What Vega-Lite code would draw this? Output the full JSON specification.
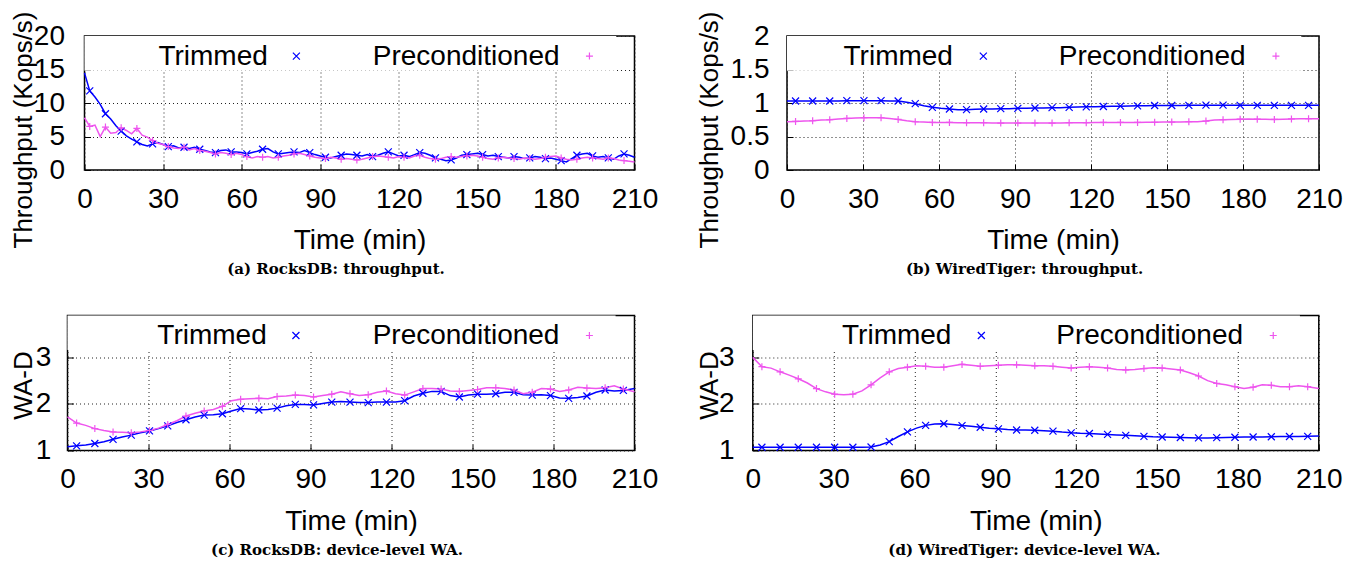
{
"$schema": "https://vega.github.io/schema/vega-lite/v6.json",
"padding": {"left": 8.5, "top": 10, "right": 5, "bottom": 5},
"background": "white",
"datasets": {
"a": [
{"s":"T","t":0,"v":14.5},{"s":"T","t":2,"v":11.8},{"s":"T","t":4,"v":10.9},{"s":"T","t":6,"v":9.8},{"s":"T","t":8,"v":8.4},{"s":"T","t":10,"v":7.6},{"s":"T","t":12,"v":6.6},{"s":"T","t":14,"v":5.8},{"s":"T","t":16,"v":5.1},{"s":"T","t":18,"v":4.6},{"s":"T","t":20,"v":4.2},{"s":"T","t":22,"v":3.8},{"s":"T","t":24,"v":3.6},{"s":"T","t":26,"v":3.9},{"s":"T","t":28,"v":4.1},{"s":"T","t":30,"v":3.8},{"s":"T","t":32,"v":3.5},{"s":"T","t":34,"v":3.6},{"s":"T","t":36,"v":3.3},{"s":"T","t":38,"v":3.4},{"s":"T","t":40,"v":3.2},{"s":"T","t":42,"v":3.4},{"s":"T","t":44,"v":3.1},{"s":"T","t":46,"v":2.9},{"s":"T","t":48,"v":2.7},{"s":"T","t":50,"v":2.6},{"s":"T","t":52,"v":2.9},{"s":"T","t":54,"v":3.0},{"s":"T","t":56,"v":2.7},{"s":"T","t":58,"v":2.7},{"s":"T","t":60,"v":2.6},{"s":"T","t":62,"v":2.4},{"s":"T","t":64,"v":2.6},{"s":"T","t":66,"v":2.8},{"s":"T","t":68,"v":3.1},{"s":"T","t":70,"v":3.2},{"s":"T","t":72,"v":2.7},{"s":"T","t":74,"v":2.4},{"s":"T","t":76,"v":2.5},{"s":"T","t":78,"v":2.6},{"s":"T","t":80,"v":2.7},{"s":"T","t":82,"v":2.6},{"s":"T","t":84,"v":2.9},{"s":"T","t":86,"v":2.6},{"s":"T","t":88,"v":2.3},{"s":"T","t":90,"v":2.1},{"s":"T","t":92,"v":1.9},{"s":"T","t":94,"v":1.8},{"s":"T","t":96,"v":2.0},{"s":"T","t":98,"v":2.2},{"s":"T","t":100,"v":2.4},{"s":"T","t":102,"v":2.3},{"s":"T","t":104,"v":2.2},{"s":"T","t":106,"v":2.1},{"s":"T","t":108,"v":2.3},{"s":"T","t":110,"v":2.0},{"s":"T","t":112,"v":2.2},{"s":"T","t":114,"v":2.5},{"s":"T","t":116,"v":2.7},{"s":"T","t":118,"v":2.4},{"s":"T","t":120,"v":2.1},{"s":"T","t":122,"v":2.2},{"s":"T","t":124,"v":2.0},{"s":"T","t":126,"v":2.3},{"s":"T","t":128,"v":2.6},{"s":"T","t":130,"v":2.5},{"s":"T","t":132,"v":2.2},{"s":"T","t":134,"v":1.8},{"s":"T","t":136,"v":1.6},{"s":"T","t":138,"v":1.4},{"s":"T","t":140,"v":1.5},{"s":"T","t":142,"v":1.8},{"s":"T","t":144,"v":2.2},{"s":"T","t":146,"v":2.3},{"s":"T","t":148,"v":2.4},{"s":"T","t":150,"v":2.5},{"s":"T","t":152,"v":2.3},{"s":"T","t":154,"v":2.1},{"s":"T","t":156,"v":2.2},{"s":"T","t":158,"v":2.0},{"s":"T","t":160,"v":1.9},{"s":"T","t":162,"v":1.8},{"s":"T","t":164,"v":2.0},{"s":"T","t":166,"v":1.9},{"s":"T","t":168,"v":1.7},{"s":"T","t":170,"v":1.8},{"s":"T","t":172,"v":2.0},{"s":"T","t":174,"v":1.9},{"s":"T","t":176,"v":1.7},{"s":"T","t":178,"v":1.8},{"s":"T","t":180,"v":1.6},{"s":"T","t":182,"v":1.4},{"s":"T","t":184,"v":1.2},{"s":"T","t":186,"v":1.7},{"s":"T","t":188,"v":2.2},{"s":"T","t":190,"v":2.4},{"s":"T","t":192,"v":2.5},{"s":"T","t":194,"v":2.1},{"s":"T","t":196,"v":1.9},{"s":"T","t":198,"v":2.0},{"s":"T","t":200,"v":1.8},{"s":"T","t":202,"v":1.6},{"s":"T","t":204,"v":2.1},{"s":"T","t":206,"v":2.4},{"s":"T","t":208,"v":2.2},{"s":"T","t":210,"v":1.9},
{"s":"P","t":0,"v":7.8},{"s":"P","t":2,"v":6.5},{"s":"P","t":4,"v":6.7},{"s":"P","t":6,"v":5.0},{"s":"P","t":8,"v":6.4},{"s":"P","t":10,"v":5.5},{"s":"P","t":12,"v":5.6},{"s":"P","t":14,"v":6.3},{"s":"P","t":16,"v":5.9},{"s":"P","t":18,"v":5.4},{"s":"P","t":20,"v":6.2},{"s":"P","t":22,"v":5.2},{"s":"P","t":24,"v":4.9},{"s":"P","t":26,"v":4.4},{"s":"P","t":28,"v":4.0},{"s":"P","t":30,"v":3.8},{"s":"P","t":32,"v":3.5},{"s":"P","t":34,"v":3.3},{"s":"P","t":36,"v":3.2},{"s":"P","t":38,"v":3.4},{"s":"P","t":40,"v":3.0},{"s":"P","t":42,"v":3.2},{"s":"P","t":44,"v":2.9},{"s":"P","t":46,"v":2.8},{"s":"P","t":48,"v":2.6},{"s":"P","t":50,"v":2.4},{"s":"P","t":52,"v":2.6},{"s":"P","t":54,"v":2.5},{"s":"P","t":56,"v":2.3},{"s":"P","t":58,"v":2.5},{"s":"P","t":60,"v":2.3},{"s":"P","t":62,"v":2.0},{"s":"P","t":64,"v":1.8},{"s":"P","t":66,"v":2.0},{"s":"P","t":68,"v":1.9},{"s":"P","t":70,"v":2.0},{"s":"P","t":72,"v":1.8},{"s":"P","t":74,"v":1.9},{"s":"P","t":76,"v":2.1},{"s":"P","t":78,"v":2.2},{"s":"P","t":80,"v":2.4},{"s":"P","t":82,"v":2.5},{"s":"P","t":84,"v":2.3},{"s":"P","t":86,"v":2.1},{"s":"P","t":88,"v":1.9},{"s":"P","t":90,"v":1.8},{"s":"P","t":92,"v":1.7},{"s":"P","t":94,"v":1.9},{"s":"P","t":96,"v":1.8},{"s":"P","t":98,"v":1.6},{"s":"P","t":100,"v":1.7},{"s":"P","t":102,"v":1.6},{"s":"P","t":104,"v":1.5},{"s":"P","t":106,"v":1.6},{"s":"P","t":108,"v":1.8},{"s":"P","t":110,"v":2.0},{"s":"P","t":112,"v":2.1},{"s":"P","t":114,"v":2.0},{"s":"P","t":116,"v":1.9},{"s":"P","t":118,"v":1.8},{"s":"P","t":120,"v":2.0},{"s":"P","t":122,"v":1.9},{"s":"P","t":124,"v":1.8},{"s":"P","t":126,"v":2.1},{"s":"P","t":128,"v":2.2},{"s":"P","t":130,"v":1.9},{"s":"P","t":132,"v":1.7},{"s":"P","t":134,"v":1.6},{"s":"P","t":136,"v":1.7},{"s":"P","t":138,"v":1.9},{"s":"P","t":140,"v":2.0},{"s":"P","t":142,"v":1.9},{"s":"P","t":144,"v":2.0},{"s":"P","t":146,"v":2.1},{"s":"P","t":148,"v":2.2},{"s":"P","t":150,"v":2.1},{"s":"P","t":152,"v":1.9},{"s":"P","t":154,"v":1.7},{"s":"P","t":156,"v":1.6},{"s":"P","t":158,"v":1.8},{"s":"P","t":160,"v":1.9},{"s":"P","t":162,"v":1.8},{"s":"P","t":164,"v":1.7},{"s":"P","t":166,"v":1.6},{"s":"P","t":168,"v":1.8},{"s":"P","t":170,"v":1.7},{"s":"P","t":172,"v":1.6},{"s":"P","t":174,"v":1.7},{"s":"P","t":176,"v":1.9},{"s":"P","t":178,"v":2.0},{"s":"P","t":180,"v":2.1},{"s":"P","t":182,"v":1.8},{"s":"P","t":184,"v":1.6},{"s":"P","t":186,"v":1.5},{"s":"P","t":188,"v":1.6},{"s":"P","t":190,"v":1.8},{"s":"P","t":192,"v":1.9},{"s":"P","t":194,"v":1.8},{"s":"P","t":196,"v":1.7},{"s":"P","t":198,"v":1.6},{"s":"P","t":200,"v":1.8},{"s":"P","t":202,"v":1.7},{"s":"P","t":204,"v":1.5},{"s":"P","t":206,"v":1.4},{"s":"P","t":208,"v":1.3},{"s":"P","t":210,"v":1.2}
],
"b": [
{"s":"T","t":0,"v":1.03},{"s":"T","t":3.375,"v":1.03},{"s":"T","t":6.75,"v":1.03},{"s":"T","t":10.125,"v":1.03},{"s":"T","t":13.5,"v":1.03},{"s":"T","t":16.875,"v":1.03},{"s":"T","t":20.25,"v":1.03},{"s":"T","t":23.625,"v":1.035},{"s":"T","t":27,"v":1.035},{"s":"T","t":30.375,"v":1.035},{"s":"T","t":33.75,"v":1.035},{"s":"T","t":37.125,"v":1.035},{"s":"T","t":40.5,"v":1.03},{"s":"T","t":43.875,"v":1.03},{"s":"T","t":47.25,"v":1.01},{"s":"T","t":50.625,"v":0.99},{"s":"T","t":54,"v":0.96},{"s":"T","t":57.375,"v":0.935},{"s":"T","t":60.75,"v":0.92},{"s":"T","t":64.125,"v":0.91},{"s":"T","t":67.5,"v":0.9},{"s":"T","t":70.875,"v":0.9},{"s":"T","t":74.25,"v":0.905},{"s":"T","t":77.625,"v":0.91},{"s":"T","t":81,"v":0.91},{"s":"T","t":84.375,"v":0.915},{"s":"T","t":87.75,"v":0.915},{"s":"T","t":91.125,"v":0.92},{"s":"T","t":94.5,"v":0.92},{"s":"T","t":97.875,"v":0.925},{"s":"T","t":101.25,"v":0.925},{"s":"T","t":104.625,"v":0.93},{"s":"T","t":108,"v":0.93},{"s":"T","t":111.375,"v":0.935},{"s":"T","t":114.75,"v":0.94},{"s":"T","t":118.125,"v":0.943},{"s":"T","t":121.5,"v":0.945},{"s":"T","t":124.875,"v":0.948},{"s":"T","t":128.25,"v":0.95},{"s":"T","t":131.625,"v":0.953},{"s":"T","t":135,"v":0.955},{"s":"T","t":138.375,"v":0.958},{"s":"T","t":141.75,"v":0.96},{"s":"T","t":145.125,"v":0.962},{"s":"T","t":148.5,"v":0.963},{"s":"T","t":151.875,"v":0.963},{"s":"T","t":155.25,"v":0.963},{"s":"T","t":158.625,"v":0.965},{"s":"T","t":162,"v":0.966},{"s":"T","t":165.375,"v":0.968},{"s":"T","t":168.75,"v":0.968},{"s":"T","t":172.125,"v":0.968},{"s":"T","t":175.5,"v":0.966},{"s":"T","t":178.875,"v":0.965},{"s":"T","t":182.25,"v":0.965},{"s":"T","t":185.625,"v":0.965},{"s":"T","t":189,"v":0.965},{"s":"T","t":192.375,"v":0.965},{"s":"T","t":195.75,"v":0.965},{"s":"T","t":199.125,"v":0.965},{"s":"T","t":202.5,"v":0.965},{"s":"T","t":205.875,"v":0.965},{"s":"T","t":210,"v":0.965},
{"s":"P","t":0,"v":0.72},{"s":"P","t":3.375,"v":0.725},{"s":"P","t":6.75,"v":0.73},{"s":"P","t":10.125,"v":0.735},{"s":"P","t":13.5,"v":0.745},{"s":"P","t":16.875,"v":0.75},{"s":"P","t":20.25,"v":0.76},{"s":"P","t":23.625,"v":0.77},{"s":"P","t":27,"v":0.775},{"s":"P","t":30.375,"v":0.78},{"s":"P","t":33.75,"v":0.78},{"s":"P","t":37.125,"v":0.78},{"s":"P","t":40.5,"v":0.77},{"s":"P","t":43.875,"v":0.755},{"s":"P","t":47.25,"v":0.735},{"s":"P","t":50.625,"v":0.72},{"s":"P","t":54,"v":0.715},{"s":"P","t":57.375,"v":0.71},{"s":"P","t":60.75,"v":0.71},{"s":"P","t":64.125,"v":0.71},{"s":"P","t":67.5,"v":0.705},{"s":"P","t":70.875,"v":0.705},{"s":"P","t":74.25,"v":0.705},{"s":"P","t":77.625,"v":0.705},{"s":"P","t":81,"v":0.7},{"s":"P","t":84.375,"v":0.7},{"s":"P","t":87.75,"v":0.7},{"s":"P","t":91.125,"v":0.7},{"s":"P","t":94.5,"v":0.7},{"s":"P","t":97.875,"v":0.7},{"s":"P","t":101.25,"v":0.7},{"s":"P","t":104.625,"v":0.7},{"s":"P","t":108,"v":0.703},{"s":"P","t":111.375,"v":0.705},{"s":"P","t":114.75,"v":0.705},{"s":"P","t":118.125,"v":0.705},{"s":"P","t":121.5,"v":0.708},{"s":"P","t":124.875,"v":0.71},{"s":"P","t":128.25,"v":0.71},{"s":"P","t":131.625,"v":0.71},{"s":"P","t":135,"v":0.71},{"s":"P","t":138.375,"v":0.71},{"s":"P","t":141.75,"v":0.712},{"s":"P","t":145.125,"v":0.713},{"s":"P","t":148.5,"v":0.715},{"s":"P","t":151.875,"v":0.715},{"s":"P","t":155.25,"v":0.718},{"s":"P","t":158.625,"v":0.72},{"s":"P","t":162,"v":0.72},{"s":"P","t":165.375,"v":0.73},{"s":"P","t":168.75,"v":0.745},{"s":"P","t":172.125,"v":0.75},{"s":"P","t":175.5,"v":0.755},{"s":"P","t":178.875,"v":0.758},{"s":"P","t":182.25,"v":0.76},{"s":"P","t":185.625,"v":0.758},{"s":"P","t":189,"v":0.756},{"s":"P","t":192.375,"v":0.755},{"s":"P","t":195.75,"v":0.758},{"s":"P","t":199.125,"v":0.762},{"s":"P","t":202.5,"v":0.765},{"s":"P","t":205.875,"v":0.765},{"s":"P","t":210,"v":0.765}
],
"c": [
{"s":"T","t":0,"v":1.08},{"s":"T","t":3.375,"v":1.1},{"s":"T","t":6.75,"v":1.12},{"s":"T","t":10.125,"v":1.15},{"s":"T","t":13.5,"v":1.19},{"s":"T","t":16.875,"v":1.24},{"s":"T","t":20.25,"v":1.29},{"s":"T","t":23.625,"v":1.33},{"s":"T","t":27,"v":1.38},{"s":"T","t":30.375,"v":1.42},{"s":"T","t":33.75,"v":1.47},{"s":"T","t":37.125,"v":1.53},{"s":"T","t":40.5,"v":1.6},{"s":"T","t":43.875,"v":1.66},{"s":"T","t":47.25,"v":1.72},{"s":"T","t":50.625,"v":1.76},{"s":"T","t":54,"v":1.77},{"s":"T","t":57.375,"v":1.79},{"s":"T","t":60.75,"v":1.85},{"s":"T","t":64.125,"v":1.9},{"s":"T","t":67.5,"v":1.89},{"s":"T","t":70.875,"v":1.87},{"s":"T","t":74.25,"v":1.88},{"s":"T","t":77.625,"v":1.91},{"s":"T","t":81,"v":1.96},{"s":"T","t":84.375,"v":1.99},{"s":"T","t":87.75,"v":1.99},{"s":"T","t":91.125,"v":1.98},{"s":"T","t":94.5,"v":2.01},{"s":"T","t":97.875,"v":2.04},{"s":"T","t":101.25,"v":2.05},{"s":"T","t":104.625,"v":2.04},{"s":"T","t":108,"v":2.03},{"s":"T","t":111.375,"v":2.03},{"s":"T","t":114.75,"v":2.04},{"s":"T","t":118.125,"v":2.04},{"s":"T","t":121.5,"v":2.04},{"s":"T","t":124.875,"v":2.07},{"s":"T","t":128.25,"v":2.17},{"s":"T","t":131.625,"v":2.23},{"s":"T","t":135,"v":2.27},{"s":"T","t":138.375,"v":2.27},{"s":"T","t":141.75,"v":2.18},{"s":"T","t":145.125,"v":2.15},{"s":"T","t":148.5,"v":2.19},{"s":"T","t":151.875,"v":2.21},{"s":"T","t":155.25,"v":2.21},{"s":"T","t":158.625,"v":2.22},{"s":"T","t":162,"v":2.25},{"s":"T","t":165.375,"v":2.25},{"s":"T","t":168.75,"v":2.2},{"s":"T","t":172.125,"v":2.19},{"s":"T","t":175.5,"v":2.2},{"s":"T","t":178.875,"v":2.18},{"s":"T","t":182.25,"v":2.13},{"s":"T","t":185.625,"v":2.12},{"s":"T","t":189,"v":2.14},{"s":"T","t":192.375,"v":2.17},{"s":"T","t":195.75,"v":2.25},{"s":"T","t":199.125,"v":2.3},{"s":"T","t":202.5,"v":2.28},{"s":"T","t":205.875,"v":2.29},{"s":"T","t":210,"v":2.33},
{"s":"P","t":0,"v":1.72},{"s":"P","t":3.375,"v":1.59},{"s":"P","t":6.75,"v":1.54},{"s":"P","t":10.125,"v":1.47},{"s":"P","t":13.5,"v":1.43},{"s":"P","t":16.875,"v":1.4},{"s":"P","t":20.25,"v":1.39},{"s":"P","t":23.625,"v":1.38},{"s":"P","t":27,"v":1.4},{"s":"P","t":30.375,"v":1.43},{"s":"P","t":33.75,"v":1.48},{"s":"P","t":37.125,"v":1.56},{"s":"P","t":40.5,"v":1.64},{"s":"P","t":43.875,"v":1.74},{"s":"P","t":47.25,"v":1.8},{"s":"P","t":50.625,"v":1.85},{"s":"P","t":54,"v":1.88},{"s":"P","t":57.375,"v":1.95},{"s":"P","t":60.75,"v":2.07},{"s":"P","t":64.125,"v":2.1},{"s":"P","t":67.5,"v":2.11},{"s":"P","t":70.875,"v":2.12},{"s":"P","t":74.25,"v":2.11},{"s":"P","t":77.625,"v":2.16},{"s":"P","t":81,"v":2.17},{"s":"P","t":84.375,"v":2.19},{"s":"P","t":87.75,"v":2.18},{"s":"P","t":91.125,"v":2.15},{"s":"P","t":94.5,"v":2.18},{"s":"P","t":97.875,"v":2.21},{"s":"P","t":101.25,"v":2.26},{"s":"P","t":104.625,"v":2.22},{"s":"P","t":108,"v":2.18},{"s":"P","t":111.375,"v":2.2},{"s":"P","t":114.75,"v":2.25},{"s":"P","t":118.125,"v":2.28},{"s":"P","t":121.5,"v":2.22},{"s":"P","t":124.875,"v":2.19},{"s":"P","t":128.25,"v":2.26},{"s":"P","t":131.625,"v":2.33},{"s":"P","t":135,"v":2.33},{"s":"P","t":138.375,"v":2.32},{"s":"P","t":141.75,"v":2.28},{"s":"P","t":145.125,"v":2.27},{"s":"P","t":148.5,"v":2.29},{"s":"P","t":151.875,"v":2.31},{"s":"P","t":155.25,"v":2.35},{"s":"P","t":158.625,"v":2.35},{"s":"P","t":162,"v":2.33},{"s":"P","t":165.375,"v":2.3},{"s":"P","t":168.75,"v":2.22},{"s":"P","t":172.125,"v":2.25},{"s":"P","t":175.5,"v":2.33},{"s":"P","t":178.875,"v":2.32},{"s":"P","t":182.25,"v":2.27},{"s":"P","t":185.625,"v":2.3},{"s":"P","t":189,"v":2.36},{"s":"P","t":192.375,"v":2.34},{"s":"P","t":195.75,"v":2.33},{"s":"P","t":199.125,"v":2.35},{"s":"P","t":202.5,"v":2.39},{"s":"P","t":205.875,"v":2.32},{"s":"P","t":210,"v":2.26}
],
"d": [
{"s":"T","t":0,"v":1.07},{"s":"T","t":3.375,"v":1.07},{"s":"T","t":6.75,"v":1.07},{"s":"T","t":10.125,"v":1.07},{"s":"T","t":13.5,"v":1.07},{"s":"T","t":16.875,"v":1.07},{"s":"T","t":20.25,"v":1.07},{"s":"T","t":23.625,"v":1.07},{"s":"T","t":27,"v":1.07},{"s":"T","t":30.375,"v":1.07},{"s":"T","t":33.75,"v":1.07},{"s":"T","t":37.125,"v":1.07},{"s":"T","t":40.5,"v":1.07},{"s":"T","t":43.875,"v":1.075},{"s":"T","t":47.25,"v":1.12},{"s":"T","t":50.625,"v":1.19},{"s":"T","t":54,"v":1.3},{"s":"T","t":57.375,"v":1.4},{"s":"T","t":60.75,"v":1.48},{"s":"T","t":64.125,"v":1.54},{"s":"T","t":67.5,"v":1.57},{"s":"T","t":70.875,"v":1.575},{"s":"T","t":74.25,"v":1.56},{"s":"T","t":77.625,"v":1.535},{"s":"T","t":81,"v":1.52},{"s":"T","t":84.375,"v":1.5},{"s":"T","t":87.75,"v":1.48},{"s":"T","t":91.125,"v":1.465},{"s":"T","t":94.5,"v":1.45},{"s":"T","t":97.875,"v":1.44},{"s":"T","t":101.25,"v":1.44},{"s":"T","t":104.625,"v":1.435},{"s":"T","t":108,"v":1.425},{"s":"T","t":111.375,"v":1.415},{"s":"T","t":114.75,"v":1.395},{"s":"T","t":118.125,"v":1.38},{"s":"T","t":121.5,"v":1.37},{"s":"T","t":124.875,"v":1.365},{"s":"T","t":128.25,"v":1.355},{"s":"T","t":131.625,"v":1.345},{"s":"T","t":135,"v":1.335},{"s":"T","t":138.375,"v":1.325},{"s":"T","t":141.75,"v":1.315},{"s":"T","t":145.125,"v":1.305},{"s":"T","t":148.5,"v":1.295},{"s":"T","t":151.875,"v":1.29},{"s":"T","t":155.25,"v":1.285},{"s":"T","t":158.625,"v":1.28},{"s":"T","t":162,"v":1.275},{"s":"T","t":165.375,"v":1.27},{"s":"T","t":168.75,"v":1.27},{"s":"T","t":172.125,"v":1.275},{"s":"T","t":175.5,"v":1.28},{"s":"T","t":178.875,"v":1.285},{"s":"T","t":182.25,"v":1.29},{"s":"T","t":185.625,"v":1.29},{"s":"T","t":189,"v":1.29},{"s":"T","t":192.375,"v":1.295},{"s":"T","t":195.75,"v":1.3},{"s":"T","t":199.125,"v":1.3},{"s":"T","t":202.5,"v":1.3},{"s":"T","t":205.875,"v":1.305},{"s":"T","t":210,"v":1.31},
{"s":"P","t":0,"v":3.0},{"s":"P","t":3.375,"v":2.8},{"s":"P","t":6.75,"v":2.77},{"s":"P","t":10.125,"v":2.69},{"s":"P","t":13.5,"v":2.62},{"s":"P","t":16.875,"v":2.54},{"s":"P","t":20.25,"v":2.45},{"s":"P","t":23.625,"v":2.33},{"s":"P","t":27,"v":2.26},{"s":"P","t":30.375,"v":2.21},{"s":"P","t":33.75,"v":2.2},{"s":"P","t":37.125,"v":2.21},{"s":"P","t":40.5,"v":2.28},{"s":"P","t":43.875,"v":2.41},{"s":"P","t":47.25,"v":2.56},{"s":"P","t":50.625,"v":2.69},{"s":"P","t":54,"v":2.76},{"s":"P","t":57.375,"v":2.79},{"s":"P","t":60.75,"v":2.82},{"s":"P","t":64.125,"v":2.81},{"s":"P","t":67.5,"v":2.79},{"s":"P","t":70.875,"v":2.79},{"s":"P","t":74.25,"v":2.82},{"s":"P","t":77.625,"v":2.85},{"s":"P","t":81,"v":2.83},{"s":"P","t":84.375,"v":2.81},{"s":"P","t":87.75,"v":2.82},{"s":"P","t":91.125,"v":2.83},{"s":"P","t":94.5,"v":2.84},{"s":"P","t":97.875,"v":2.84},{"s":"P","t":101.25,"v":2.83},{"s":"P","t":104.625,"v":2.82},{"s":"P","t":108,"v":2.82},{"s":"P","t":111.375,"v":2.81},{"s":"P","t":114.75,"v":2.79},{"s":"P","t":118.125,"v":2.77},{"s":"P","t":121.5,"v":2.79},{"s":"P","t":124.875,"v":2.8},{"s":"P","t":128.25,"v":2.79},{"s":"P","t":131.625,"v":2.77},{"s":"P","t":135,"v":2.74},{"s":"P","t":138.375,"v":2.73},{"s":"P","t":141.75,"v":2.74},{"s":"P","t":145.125,"v":2.76},{"s":"P","t":148.5,"v":2.78},{"s":"P","t":151.875,"v":2.77},{"s":"P","t":155.25,"v":2.75},{"s":"P","t":158.625,"v":2.73},{"s":"P","t":162,"v":2.67},{"s":"P","t":165.375,"v":2.6},{"s":"P","t":168.75,"v":2.5},{"s":"P","t":172.125,"v":2.44},{"s":"P","t":175.5,"v":2.41},{"s":"P","t":178.875,"v":2.37},{"s":"P","t":182.25,"v":2.33},{"s":"P","t":185.625,"v":2.36},{"s":"P","t":189,"v":2.41},{"s":"P","t":192.375,"v":2.4},{"s":"P","t":195.75,"v":2.37},{"s":"P","t":199.125,"v":2.37},{"s":"P","t":202.5,"v":2.39},{"s":"P","t":205.875,"v":2.37},{"s":"P","t":210,"v":2.33}
]
},
"spacing": 36.5,
"vconcat": [
{"spacing": 0, "hconcat": [
{"width": 1, "height": 1, "view": {"stroke": null}, "data": {"values": [{}]}, "mark": {"type": "point", "size": 0, "opacity": 0}, "encoding": {}},
{"spacing": 35.5, "hconcat": [
{"width": 550, "height": 134,
 "title": {"text": "(a) RocksDB: throughput.", "dx": -23.5},
 "layer": [
  {"data": {"values": [{}]}, "mark": {"type": "rect", "fill": "white"},
   "encoding": {"x": {"datum": 0, "type": "quantitative", "scale": {"domain": [0, 210], "nice": false}}, "x2": {"datum": 203}, "y": {"datum": 14.8, "type": "quantitative", "scale": {"domain": [0, 20], "nice": false}}, "y2": {"datum": 20}}},
  {"data": {"name": "a"}, "mark": {"type": "line", "strokeWidth": 1.5},
   "encoding": {
    "x": {"field": "t", "type": "quantitative", "scale": {"domain": [0, 210], "nice": false}, "axis": {"values": [0,30,60,90,120,150,180,210], "tickCount": 20, "format": "d", "labelOverlap": false, "title": "Time (min)", "titleY": 78.5, "titleBaseline": "alphabetic", "labelPadding": 21}},
    "y": {"field": "v", "type": "quantitative", "scale": {"domain": [0, 20], "nice": false}, "axis": {"values": [0,5,10,15,20], "tickCount": 10, "format": "d", "labelOverlap": false, "title": "Throughput (Kops/s)", "titleFontSize": 26, "titleAngle": 270, "titleBaseline": "alphabetic", "titleAlign": "center", "titleX": -53, "titleY": 93.5, "labelPadding": 26}},
    "color": {"field": "s", "type": "nominal", "scale": {"domain": ["T", "P"], "range": ["#0000ff", "#ee55ee"]}, "legend": null}}},
  {"data": {"name": "a"}, "transform": [{"filter": "datum.t % 6 == 2"}], "mark": {"type": "point", "filled": false, "strokeWidth": 1.2, "size": 49, "opacity": 1},
   "encoding": {
    "x": {"field": "t", "type": "quantitative"},
    "y": {"field": "v", "type": "quantitative"},
    "color": {"field": "s", "type": "nominal", "scale": {"domain": ["T", "P"], "range": ["#0000ff", "#ee55ee"]}, "legend": null},
    "shape": {"field": "s", "type": "nominal", "scale": {"domain": ["T", "P"], "range": ["M-1,-1L1,1M-1,1L1,-1", "M-1,0L1,0M0,-1L0,1"]}, "legend": null}}},
  {"data": {"values": [{}]}, "mark": {"type": "text", "align": "right", "baseline": "alphabetic", "font": "Liberation Sans", "fontSize": 28, "color": "#000"},
   "encoding": {"x": {"datum": 70, "type": "quantitative"}, "y": {"datum": 15.63, "type": "quantitative"}, "text": {"value": "Trimmed"}}},
  {"data": {"values": [{}]}, "mark": {"type": "text", "align": "right", "baseline": "alphabetic", "font": "Liberation Sans", "fontSize": 28, "color": "#000"},
   "encoding": {"x": {"datum": 181.4, "type": "quantitative"}, "y": {"datum": 15.63, "type": "quantitative"}, "text": {"value": "Preconditioned"}}},
  {"data": {"values": [{}]}, "mark": {"type": "point", "filled": false, "strokeWidth": 1.2, "size": 49, "opacity": 1, "shape": "M-1,-1L1,1M-1,1L1,-1", "color": "#0000ff"},
   "encoding": {"x": {"datum": 80.9, "type": "quantitative"}, "y": {"datum": 17.0, "type": "quantitative"}}},
  {"data": {"values": [{}]}, "mark": {"type": "point", "filled": false, "strokeWidth": 1.2, "size": 49, "opacity": 1, "shape": "M-1,0L1,0M0,-1L0,1", "color": "#ee55ee"},
   "encoding": {"x": {"datum": 192.8, "type": "quantitative"}, "y": {"datum": 17.0, "type": "quantitative"}}}
 ]},
{"width": 532, "height": 134,
 "title": {"text": "(b) WiredTiger: throughput.", "dx": -28.5},
 "layer": [
  {"data": {"values": [{}]}, "mark": {"type": "rect", "fill": "white"},
   "encoding": {"x": {"datum": 0, "type": "quantitative", "scale": {"domain": [0, 210], "nice": false}}, "x2": {"datum": 203}, "y": {"datum": 1.48, "type": "quantitative", "scale": {"domain": [0, 2], "nice": false}}, "y2": {"datum": 2}}},
  {"data": {"name": "b"}, "mark": {"type": "line", "strokeWidth": 1.5},
   "encoding": {
    "x": {"field": "t", "type": "quantitative", "scale": {"domain": [0, 210], "nice": false}, "axis": {"values": [0,30,60,90,120,150,180,210], "tickCount": 20, "format": "d", "labelOverlap": false, "title": "Time (min)", "titleY": 78.5, "titleBaseline": "alphabetic", "labelPadding": 21}},
    "y": {"field": "v", "type": "quantitative", "scale": {"domain": [0, 2], "nice": false}, "axis": {"values": [0,0.5,1,1.5,2], "tickCount": 10, "labelOverlap": false, "format": "~g", "title": "Throughput (Kops/s)", "titleFontSize": 26, "titleAngle": 270, "titleBaseline": "alphabetic", "titleAlign": "center", "titleX": -70, "titleY": 93.5, "labelPadding": 24}},
    "color": {"field": "s", "type": "nominal", "scale": {"domain": ["T", "P"], "range": ["#0000ff", "#ee55ee"]}, "legend": null}}},
  {"data": {"name": "b"}, "transform": [{"filter": "(datum.t / 3.375) % 2 == 1"}], "mark": {"type": "point", "filled": false, "strokeWidth": 1.2, "size": 49, "opacity": 1},
   "encoding": {
    "x": {"field": "t", "type": "quantitative"},
    "y": {"field": "v", "type": "quantitative"},
    "color": {"field": "s", "type": "nominal", "scale": {"domain": ["T", "P"], "range": ["#0000ff", "#ee55ee"]}, "legend": null},
    "shape": {"field": "s", "type": "nominal", "scale": {"domain": ["T", "P"], "range": ["M-1,-1L1,1M-1,1L1,-1", "M-1,0L1,0M0,-1L0,1"]}, "legend": null}}},
  {"data": {"values": [{}]}, "mark": {"type": "text", "align": "right", "baseline": "alphabetic", "font": "Liberation Sans", "fontSize": 28, "color": "#000"},
   "encoding": {"x": {"datum": 65.5, "type": "quantitative"}, "y": {"datum": 1.563, "type": "quantitative"}, "text": {"value": "Trimmed"}}},
  {"data": {"values": [{}]}, "mark": {"type": "text", "align": "right", "baseline": "alphabetic", "font": "Liberation Sans", "fontSize": 28, "color": "#000"},
   "encoding": {"x": {"datum": 181, "type": "quantitative"}, "y": {"datum": 1.563, "type": "quantitative"}, "text": {"value": "Preconditioned"}}},
  {"data": {"values": [{}]}, "mark": {"type": "point", "filled": false, "strokeWidth": 1.2, "size": 49, "opacity": 1, "shape": "M-1,-1L1,1M-1,1L1,-1", "color": "#0000ff"},
   "encoding": {"x": {"datum": 77.5, "type": "quantitative"}, "y": {"datum": 1.7, "type": "quantitative"}}},
  {"data": {"values": [{}]}, "mark": {"type": "point", "filled": false, "strokeWidth": 1.2, "size": 49, "opacity": 1, "shape": "M-1,0L1,0M0,-1L0,1", "color": "#ee55ee"},
   "encoding": {"x": {"datum": 193, "type": "quantitative"}, "y": {"datum": 1.7, "type": "quantitative"}}}
 ]}
]}
]},
{"spacing": 0, "hconcat": [
{"width": 1, "height": 1, "view": {"stroke": null}, "data": {"values": [{}]}, "mark": {"type": "point", "size": 0, "opacity": 0}, "encoding": {}},
{"spacing": 35.3, "hconcat": [
{"width": 567, "height": 135,
 "title": {"text": "(c) RocksDB: device-level WA.", "dx": -14},
 "layer": [
  {"data": {"values": [{}]}, "mark": {"type": "rect", "fill": "white"},
   "encoding": {"x": {"datum": 0, "type": "quantitative", "scale": {"domain": [0, 210], "nice": false}}, "x2": {"datum": 203}, "y": {"datum": 3.16, "type": "quantitative", "scale": {"domain": [1, 3.9], "nice": false, "zero": false}}, "y2": {"datum": 3.9}}},
  {"data": {"name": "c"}, "mark": {"type": "line", "strokeWidth": 1.5},
   "encoding": {
    "x": {"field": "t", "type": "quantitative", "scale": {"domain": [0, 210], "nice": false}, "axis": {"values": [0,30,60,90,120,150,180,210], "tickCount": 20, "format": "d", "labelOverlap": false, "title": "Time (min)", "titleY": 79, "titleBaseline": "alphabetic", "labelPadding": 21}},
    "y": {"field": "v", "type": "quantitative", "scale": {"domain": [1, 3.9], "nice": false, "zero": false}, "axis": {"values": [1,2,3], "tickCount": 10, "format": "d", "labelOverlap": false, "title": "WA-D", "titleFontSize": 26, "titleAngle": 270, "titleBaseline": "alphabetic", "titleAlign": "center", "titleX": -36.2, "titleY": 69.5, "labelPadding": 22.7}},
    "color": {"field": "s", "type": "nominal", "scale": {"domain": ["T", "P"], "range": ["#0000ff", "#ee55ee"]}, "legend": null}}},
  {"data": {"name": "c"}, "transform": [{"filter": "(datum.t / 3.375) % 2 == 1"}], "mark": {"type": "point", "filled": false, "strokeWidth": 1.2, "size": 49, "opacity": 1},
   "encoding": {
    "x": {"field": "t", "type": "quantitative"},
    "y": {"field": "v", "type": "quantitative"},
    "color": {"field": "s", "type": "nominal", "scale": {"domain": ["T", "P"], "range": ["#0000ff", "#ee55ee"]}, "legend": null},
    "shape": {"field": "s", "type": "nominal", "scale": {"domain": ["T", "P"], "range": ["M-1,-1L1,1M-1,1L1,-1", "M-1,0L1,0M0,-1L0,1"]}, "legend": null}}},
  {"data": {"values": [{}]}, "mark": {"type": "text", "align": "right", "baseline": "alphabetic", "font": "Liberation Sans", "fontSize": 28, "color": "#000"},
   "encoding": {"x": {"datum": 73.8, "type": "quantitative"}, "y": {"datum": 3.29, "type": "quantitative"}, "text": {"value": "Trimmed"}}},
  {"data": {"values": [{}]}, "mark": {"type": "text", "align": "right", "baseline": "alphabetic", "font": "Liberation Sans", "fontSize": 28, "color": "#000"},
   "encoding": {"x": {"datum": 182.2, "type": "quantitative"}, "y": {"datum": 3.29, "type": "quantitative"}, "text": {"value": "Preconditioned"}}},
  {"data": {"values": [{}]}, "mark": {"type": "point", "filled": false, "strokeWidth": 1.2, "size": 49, "opacity": 1, "shape": "M-1,-1L1,1M-1,1L1,-1", "color": "#0000ff"},
   "encoding": {"x": {"datum": 84.6, "type": "quantitative"}, "y": {"datum": 3.47, "type": "quantitative"}}},
  {"data": {"values": [{}]}, "mark": {"type": "point", "filled": false, "strokeWidth": 1.2, "size": 49, "opacity": 1, "shape": "M-1,0L1,0M0,-1L0,1", "color": "#ee55ee"},
   "encoding": {"x": {"datum": 193.3, "type": "quantitative"}, "y": {"datum": 3.47, "type": "quantitative"}}}
 ]},
{"width": 566, "height": 135,
 "title": {"text": "(d) WiredTiger: device-level WA.", "dx": -11.4},
 "layer": [
  {"data": {"values": [{}]}, "mark": {"type": "rect", "fill": "white"},
   "encoding": {"x": {"datum": 0, "type": "quantitative", "scale": {"domain": [0, 210], "nice": false}}, "x2": {"datum": 203}, "y": {"datum": 3.16, "type": "quantitative", "scale": {"domain": [1, 3.9], "nice": false, "zero": false}}, "y2": {"datum": 3.9}}},
  {"data": {"name": "d"}, "mark": {"type": "line", "strokeWidth": 1.5},
   "encoding": {
    "x": {"field": "t", "type": "quantitative", "scale": {"domain": [0, 210], "nice": false}, "axis": {"values": [0,30,60,90,120,150,180,210], "tickCount": 20, "format": "d", "labelOverlap": false, "title": "Time (min)", "titleY": 79, "titleBaseline": "alphabetic", "labelPadding": 21}},
    "y": {"field": "v", "type": "quantitative", "scale": {"domain": [1, 3.9], "nice": false, "zero": false}, "axis": {"values": [1,2,3], "tickCount": 10, "format": "d", "labelOverlap": false, "title": "WA-D", "titleFontSize": 26, "titleAngle": 270, "titleBaseline": "alphabetic", "titleAlign": "center", "titleX": -35.7, "titleY": 69.5, "labelPadding": 24.7}},
    "color": {"field": "s", "type": "nominal", "scale": {"domain": ["T", "P"], "range": ["#0000ff", "#ee55ee"]}, "legend": null}}},
  {"data": {"name": "d"}, "transform": [{"filter": "(datum.t / 3.375) % 2 == 1"}], "mark": {"type": "point", "filled": false, "strokeWidth": 1.2, "size": 49, "opacity": 1},
   "encoding": {
    "x": {"field": "t", "type": "quantitative"},
    "y": {"field": "v", "type": "quantitative"},
    "color": {"field": "s", "type": "nominal", "scale": {"domain": ["T", "P"], "range": ["#0000ff", "#ee55ee"]}, "legend": null},
    "shape": {"field": "s", "type": "nominal", "scale": {"domain": ["T", "P"], "range": ["M-1,-1L1,1M-1,1L1,-1", "M-1,0L1,0M0,-1L0,1"]}, "legend": null}}},
  {"data": {"values": [{}]}, "mark": {"type": "text", "align": "right", "baseline": "alphabetic", "font": "Liberation Sans", "fontSize": 28, "color": "#000"},
   "encoding": {"x": {"datum": 73.7, "type": "quantitative"}, "y": {"datum": 3.29, "type": "quantitative"}, "text": {"value": "Trimmed"}}},
  {"data": {"values": [{}]}, "mark": {"type": "text", "align": "right", "baseline": "alphabetic", "font": "Liberation Sans", "fontSize": 28, "color": "#000"},
   "encoding": {"x": {"datum": 181.9, "type": "quantitative"}, "y": {"datum": 3.29, "type": "quantitative"}, "text": {"value": "Preconditioned"}}},
  {"data": {"values": [{}]}, "mark": {"type": "point", "filled": false, "strokeWidth": 1.2, "size": 49, "opacity": 1, "shape": "M-1,-1L1,1M-1,1L1,-1", "color": "#0000ff"},
   "encoding": {"x": {"datum": 84.8, "type": "quantitative"}, "y": {"datum": 3.47, "type": "quantitative"}}},
  {"data": {"values": [{}]}, "mark": {"type": "point", "filled": false, "strokeWidth": 1.2, "size": 49, "opacity": 1, "shape": "M-1,0L1,0M0,-1L0,1", "color": "#ee55ee"},
   "encoding": {"x": {"datum": 193.1, "type": "quantitative"}, "y": {"datum": 3.47, "type": "quantitative"}}}
 ]}
]}
]}
],
"config": {
 "view": {"stroke": "#000", "strokeWidth": 1.5},
 "axis": {"labelFont": "Liberation Sans", "labelFontSize": 28, "labelColor": "#000", "titleFont": "Liberation Sans", "titleFontSize": 28, "titleFontWeight": "normal", "titleColor": "#000", "grid": true, "gridColor": "#222", "gridOpacity": 1, "gridDash": [1, 3], "gridWidth": 1, "domain": false, "ticks": true, "tickColor": "#000", "tickSize": -6, "tickWidth": 1, "labelFlush": false, "labelOverlap": false, "labelBound": false},
 "title": {"font": "DejaVu Serif", "fontSize": 15, "fontWeight": "bold", "color": "#000", "orient": "bottom", "anchor": "middle", "frame": "group", "baseline": "top", "offset": 7}
}
}
